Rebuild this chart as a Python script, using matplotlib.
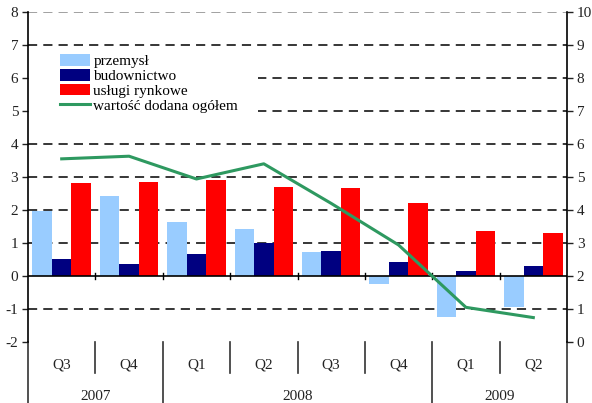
# Value added growth by sector, quarterly bar chart with total line on right axis

import numpy as np
import matplotlib.pyplot as plt
from matplotlib.patches import Rectangle

quarters = ["Q3", "Q4", "Q1", "Q2", "Q3", "Q4", "Q1", "Q2"]
years = ["2007", "2008", "2009"]
year_spans = [(0, 2), (2, 6), (6, 8)]

przemysl = [1.97, 2.42, 1.64, 1.42, 0.73, -0.24, -1.23, -0.94]
budownictwo = [0.52, 0.36, 0.67, 1.00, 0.76, 0.42, 0.15, 0.30]
uslugi = [2.82, 2.85, 2.91, 2.70, 2.67, 2.21, 1.36, 1.30]
wartosc = [5.55, 5.63, 4.94, 5.40, 4.20, 2.94, 1.05, 0.74]

plt.rcParams['font.family'] = ['Liberation Serif', 'DejaVu Serif']
plt.rcParams['axes.unicode_minus'] = False

fig = plt.figure(figsize=(5.92, 4.03), dpi=100)
ax = fig.add_axes([28/592, 1 - 342/403, 539/592, 330/403])
ax2 = ax.twinx()

x = np.arange(len(quarters)) + 0.5
w = 0.29

# grid lines (dashed), zero line solid
for v in range(-1, 9):
    if v == 0:
        continue
    ax.axhline(v, color='black' if v < 8 else '#888888', lw=1.1,
               ls=(0, (6, 4)), zorder=1)
ax.axhline(0, color='black', lw=1.2, zorder=3)

# white box behind legend hides the grid there
ax.add_patch(Rectangle((0, 0.67), 0.427, 0.215, transform=ax.transAxes,
                       facecolor='white', edgecolor='none', zorder=1.5))

b1 = ax.bar(x - w, przemysl, w, color='#99CCFF', zorder=2, label='przemysł')
b2 = ax.bar(x, budownictwo, w, color='#000080', zorder=2, label='budownictwo')
b3 = ax.bar(x + w, uslugi, w, color='#FF0000', zorder=2, label='usługi rynkowe')
ln, = ax2.plot(x, wartosc, color='#2E9960', lw=2.2, label='wartość dodana ogółem')

ax.set_xlim(0, 8)
ax.set_ylim(-2, 8)
ax2.set_ylim(0, 10)
ax.set_yticks(range(-2, 9))
ax2.set_yticks(range(0, 11))
ax.set_xticks([])

for a in (ax, ax2):
    for s in ('top', 'bottom'):
        a.spines[s].set_visible(False)
    a.spines['left'].set_linewidth(1.2)
    a.spines['right'].set_linewidth(1.2)
    a.tick_params(axis='y', direction='out', length=4, width=1,
                  labelsize=11, colors='#222222', pad=3)
ax.spines['right'].set_visible(False)
ax2.spines['left'].set_visible(False)

# small ticks on the zero line at quarter boundaries
for b in range(1, 8):
    ax.plot([b, b], [-0.1, 0.1], color='black', lw=1, zorder=3)

# category axis below the plot
trans = ax.get_xaxis_transform()
for b in range(0, 9):
    bottom = -0.185 if b in (0, 2, 6, 8) else -0.094
    ax.plot([b, b], [0, bottom], transform=trans, color='#333333', lw=1.2,
            clip_on=False)
for xi, q in zip(x, quarters):
    ax.text(xi, -0.07, q, transform=trans, ha='center', va='center',
            fontsize=11, color='#222222')
for (s, e), yr in zip(year_spans, years):
    ax.text((s + e) / 2, -0.165, yr, transform=trans, ha='center',
            va='center', fontsize=11, color='#222222')

ax2.legend([b1, b2, b3, ln], [b1.get_label(), b2.get_label(),
           b3.get_label(), ln.get_label()],
           loc='upper left', bbox_to_anchor=(0.059, 0.873), frameon=False,
           fontsize=11, labelspacing=0.05, handlelength=2.0,
           handleheight=0.8, handletextpad=0.2, borderpad=0, borderaxespad=0)

plt.savefig('out.png', dpi=100)
